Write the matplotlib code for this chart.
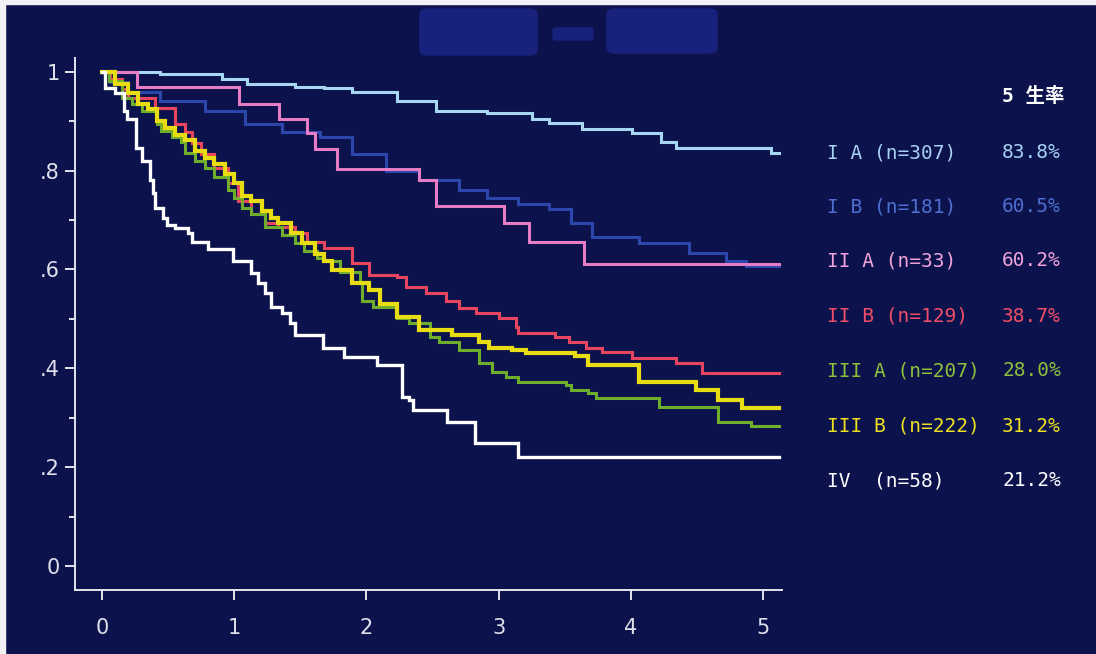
import matplotlib
matplotlib.use("Agg")
import matplotlib.pyplot as plt
from matplotlib.patches import FancyBboxPatch, Rectangle

# ---------------- data ----------------
T_END = 5.12

t_IA = [0, 0.44, 0.91, 1.10, 1.46, 1.68, 1.89, 2.23, 2.53, 2.91, 3.25, 3.38, 3.63, 4.01, 4.23, 4.34, 5.06]
s_IA = [1.0, 0.996, 0.986, 0.976, 0.970, 0.966, 0.958, 0.941, 0.921, 0.917, 0.905, 0.897, 0.885, 0.875, 0.857, 0.846, 0.836]

t_IB = [0, 0.06, 0.20, 0.44, 0.78, 1.08, 1.36, 1.65, 1.89, 2.15, 2.40, 2.70, 2.91, 3.15, 3.38, 3.55, 3.71, 4.06, 4.44, 4.72, 4.87]
s_IB = [1.0, 0.98, 0.958, 0.941, 0.921, 0.895, 0.877, 0.867, 0.834, 0.80, 0.78, 0.76, 0.745, 0.733, 0.723, 0.693, 0.665, 0.653, 0.634, 0.618, 0.607]

t_IIA = [0, 0.264, 1.04, 1.34, 1.55, 1.61, 1.78, 2.40, 2.53, 3.04, 3.23, 3.65]
s_IIA = [1.0, 0.970, 0.935, 0.905, 0.875, 0.844, 0.804, 0.78, 0.729, 0.693, 0.655, 0.610]

t_IIB = [0, 0.06, 0.15, 0.20, 0.40, 0.55, 0.63, 0.68, 0.75, 0.85, 0.95, 1.03, 1.13, 1.23, 1.33, 1.46, 1.55,
         1.68, 1.89, 2.02, 2.23, 2.30, 2.45, 2.60, 2.70, 2.83, 3.00, 3.13, 3.15, 3.43, 3.53, 3.66, 3.78,
         4.01, 4.34, 4.54]
s_IIB = [1.0, 0.985, 0.965, 0.947, 0.927, 0.895, 0.877, 0.855, 0.834, 0.806, 0.774, 0.739, 0.713, 0.693, 0.685,
         0.673, 0.655, 0.644, 0.612, 0.588, 0.584, 0.564, 0.552, 0.537, 0.521, 0.511, 0.501, 0.483, 0.471,
         0.463, 0.453, 0.442, 0.432, 0.420, 0.410, 0.390]

t_IIIA = [0, 0.05, 0.15, 0.23, 0.30, 0.42, 0.45, 0.53, 0.60, 0.63, 0.70, 0.78, 0.85, 0.95, 1.00, 1.06, 1.13,
          1.23, 1.36, 1.46, 1.53, 1.63, 1.68, 1.80, 1.95, 1.97, 2.05, 2.23, 2.32, 2.48, 2.55, 2.70, 2.85,
          2.95, 3.06, 3.15, 3.51, 3.55, 3.68, 3.74, 4.21, 4.66, 4.91]
s_IIIA = [1.0, 0.982, 0.947, 0.935, 0.921, 0.895, 0.881, 0.867, 0.857, 0.836, 0.820, 0.806, 0.786, 0.760,
          0.745, 0.725, 0.713, 0.685, 0.669, 0.653, 0.638, 0.624, 0.618, 0.594, 0.572, 0.537, 0.523, 0.501,
          0.491, 0.463, 0.453, 0.436, 0.410, 0.392, 0.382, 0.372, 0.366, 0.356, 0.349, 0.339, 0.321, 0.291,
          0.284]

t_IIIB = [0, 0.10, 0.20, 0.27, 0.35, 0.42, 0.48, 0.55, 0.63, 0.70, 0.78, 0.85, 0.93, 1.00, 1.06, 1.13, 1.21,
          1.28, 1.33, 1.43, 1.51, 1.61, 1.68, 1.74, 1.89, 2.02, 2.10, 2.23, 2.40, 2.65, 2.85, 2.93, 3.10,
          3.21, 3.58, 3.68, 4.06, 4.49, 4.66, 4.84]
s_IIIB = [1.0, 0.976, 0.956, 0.935, 0.925, 0.901, 0.887, 0.871, 0.861, 0.840, 0.826, 0.814, 0.794, 0.774,
          0.749, 0.739, 0.719, 0.705, 0.693, 0.673, 0.653, 0.632, 0.618, 0.598, 0.572, 0.558, 0.531, 0.503,
          0.477, 0.467, 0.453, 0.442, 0.436, 0.430, 0.424, 0.406, 0.372, 0.356, 0.335, 0.320]

t_IV = [0, 0.02, 0.10, 0.17, 0.19, 0.26, 0.30, 0.36, 0.385, 0.40, 0.46, 0.49, 0.55, 0.65, 0.68, 0.80, 0.99,
        1.13, 1.18, 1.23, 1.28, 1.36, 1.42, 1.46, 1.67, 1.83, 2.08, 2.27, 2.32, 2.35, 2.61, 2.82, 3.15]
s_IV = [1.0, 0.968, 0.956, 0.921, 0.905, 0.846, 0.820, 0.78, 0.754, 0.725, 0.705, 0.689, 0.683, 0.673, 0.655,
        0.642, 0.618, 0.592, 0.572, 0.552, 0.523, 0.511, 0.491, 0.467, 0.442, 0.422, 0.406, 0.341, 0.335,
        0.315, 0.291, 0.248, 0.220]

group_labels = ["I A (n=307)", "I B (n=181)", "II A (n=33)", "II B (n=129)",
                "III A (n=207)", "III B (n=222)", "IV  (n=58)"]
rates = ["83.8%", "60.5%", "60.2%", "38.7%", "28.0%", "31.2%", "21.2%"]
header = "5 生率"

x_ticks = [0, 1, 2, 3, 4, 5]
x_ticklabels = ["0", "1", "2", "3", "4", "5"]
y_ticks = [0, 0.2, 0.4, 0.6, 0.8, 1.0]
y_ticklabels = ["0", ".2", ".4", ".6", ".8", "1"]
y_minor = [0.1, 0.3, 0.5, 0.7, 0.9]

# ---------------- styling ----------------
BG = "#0c134c"
W, H = 1096, 654
line_colors = ["#a6d6f2", "#2c46ac", "#e67cc6", "#e8465e", "#6fae2c", "#e8dc12", "#ffffff"]
text_colors = ["#a8d0f2", "#4f6ed0", "#f0a2da", "#f04e68", "#8cc03a", "#eee020", "#ffffff"]
line_widths = [2.2, 2.2, 2.2, 2.2, 2.2, 3.0, 2.4]
series_t = [t_IA, t_IB, t_IIA, t_IIB, t_IIIA, t_IIIB, t_IV]
series_s = [s_IA, s_IB, s_IIA, s_IIB, s_IIIA, s_IIIB, s_IV]
draw_order = [6, 1, 2, 0, 3, 4, 5]

fig = plt.figure(figsize=(W / 100, H / 100), dpi=100, facecolor=BG)

def fx(px):
    return px / W

def fy(py):
    return 1 - py / H

ax = fig.add_axes([fx(75), fy(590), (782 - 75) / W, (590 - 58) / H])
ax.set_facecolor(BG)

for i in draw_order:
    t = list(series_t[i]) + [T_END]
    s = list(series_s[i]) + [series_s[i][-1]]
    ax.step(t, s, where="post", color=line_colors[i], lw=line_widths[i],
            solid_joinstyle="miter", zorder=3 + i)

ax.set_xlim(-0.204, 5.144)
ax.set_ylim(-0.0486, 1.0277)
for side in ["top", "right"]:
    ax.spines[side].set_visible(False)
for side in ["left", "bottom"]:
    ax.spines[side].set_color("#e4e4ee")
    ax.spines[side].set_linewidth(1.4)

ax.set_xticks(x_ticks)
ax.set_xticklabels(x_ticklabels, fontsize=15, color="#e0e0ea")
ax.set_yticks(y_ticks)
ax.set_yticklabels(y_ticklabels, fontsize=15, color="#e0e0ea")
ax.set_yticks(y_minor, minor=True)
ax.tick_params(axis="x", which="major", length=7, width=1.4, color="#e4e4ee", pad=13)
ax.tick_params(axis="y", which="major", length=7, width=1.4, color="#e4e4ee", pad=4)
ax.tick_params(axis="y", which="minor", length=4, width=1.4, color="#e4e4ee")

# ---------------- legend text ----------------
mono = ["DejaVu Sans Mono", "Noto Sans CJK JP"]
fig.text(fx(1002), fy(97), header, color="white", fontsize=14, fontweight="bold",
         family=mono, va="center", ha="left")
row_y = [153, 207, 261, 316, 371, 426, 481]
for lab, rate, col, yy in zip(group_labels, rates, text_colors, row_y):
    fig.text(fx(827), fy(yy), lab, color=col, fontsize=14, family=mono, va="center", ha="left")
    fig.text(fx(1002), fy(yy), rate, color=col, fontsize=14, family=mono, va="center", ha="left")

# ---------------- obscured title blobs & scan edges ----------------
blob_color = "#18227c"
for (x0, y0, x1, y1, r) in [(420, 9, 537, 55, 8), (553, 28, 593, 40, 4), (607, 9, 717, 53, 8)]:
    fig.patches.append(FancyBboxPatch((fx(x0), fy(y1)), fx(x1 - x0), (y1 - y0) / H,
                                      boxstyle=f"round,pad=0,rounding_size={r / W}",
                                      transform=fig.transFigure, color=blob_color, zorder=0))
fig.patches.append(Rectangle((0, 0), fx(5), 1, transform=fig.transFigure, color="#f2f2f6", zorder=1))
fig.patches.append(Rectangle((0, fy(4)), 1, 4 / H, transform=fig.transFigure, color="#f2f2f6", zorder=1))

fig.savefig("out.png", dpi=100, facecolor=BG)
